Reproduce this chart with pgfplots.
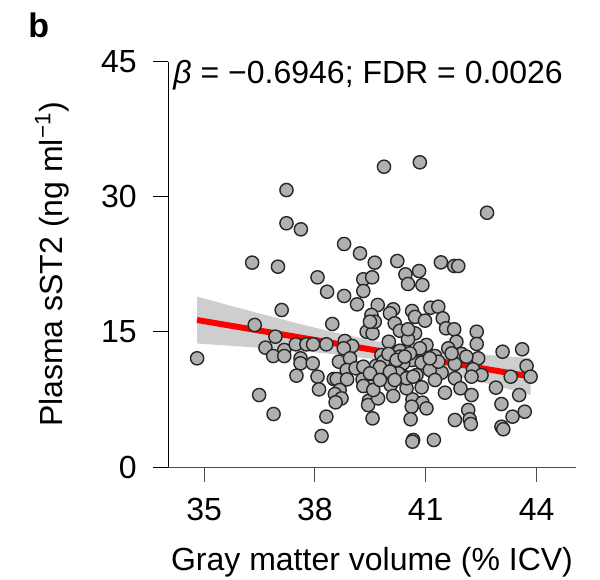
\documentclass[border=0pt]{standalone}
\usepackage{fontspec}
\setmainfont{Liberation Sans}
\usepackage{pgfplots}
\pgfplotsset{compat=1.18}
\definecolor{ptfill}{RGB}{176,176,176}
\definecolor{bandgray}{RGB}{206,206,206}
\begin{document}
\fontsize{16}{19}\selectfont
\begin{tikzpicture}
\begin{axis}[
  at={(0,0)}, anchor=south west,
  scale only axis, width=203.7pt, height=202.65pt,
  xmin=34.03, xmax=45.06, ymin=0, ymax=45,
  axis x line*=bottom, axis y line*=left,
  axis line style={-, line width=0.5pt},
  x axis line style={draw=black!70},
  y axis line style={draw=black},
  tick align=outside, major tick length=7.5pt,
  xtick={35,38,41,44}, ytick={0,15,30,45},
  x tick style={draw=black!70, line width=0.5pt},
  y tick style={draw=black, line width=0.5pt},
  minor tick num=0,
  clip=false,
  /pgf/number format/assume math mode=true,
  ticklabel style={font=\fontsize{16}{19}\selectfont},
  xticklabel style={anchor=north, inner sep=0pt},
  yticklabel style={anchor=east, inner sep=0pt},
  xticklabel shift=8pt,
  yticklabel shift=8.15pt,
  every axis x label/.style={at={([yshift=-51.5pt]axis description cs:0.5,0)}, anchor=base, inner sep=0pt, font=\fontsize{16}{19}\selectfont},
  every axis y label/.style={at={([xshift=-52.65pt]axis description cs:0,0.5)}, rotate=90, anchor=base, inner sep=0pt, font=\fontsize{16}{19}\selectfont},
  xlabel={Gray matter volume (\% ICV)},
  ylabel={Plasma sST2 (ng ml\textsuperscript{−1})},
]
% confidence band
\addplot[fill=bandgray, draw=none] coordinates {
 (34.81,18.93) (35.5,18.14) (36.5,17.05) (37.5,15.98) (38.5,14.97) (39.5,14.09)
 (40.0,13.71) (40.5,13.39) (41.5,12.89) (42.5,12.50) (43.5,12.19) (43.84,12.08)
 (43.84,8.00) (43.5,8.37) (42.5,9.44) (41.5,10.45) (40.5,11.33) (40.0,11.71)
 (39.5,12.03) (38.5,12.53) (37.5,12.92) (36.5,13.23) (35.5,13.52) (34.81,13.71)
};
% regression line
\addplot[red, line width=3pt] coordinates {(34.81,16.32) (43.84,10.04)};
% data points
\addplot[only marks, mark=*, mark size=3.3pt,
  mark options={fill=ptfill, draw=black!85, line width=0.7pt}] table {
x y
39.87 33.34
40.84 33.83
42.66 28.23
37.23 30.75
37.23 27.06
37.62 26.39
38.79 24.76
39.22 23.72
39.62 22.69
36.30 22.69
37.00 22.24
38.07 21.06
39.31 20.84
39.55 21.06
38.33 19.46
39.31 19.54
38.79 18.99
39.14 18.06
39.70 17.99
37.10 17.43
39.53 16.88
40.23 22.87
41.41 22.72
41.77 22.32
41.88 22.32
40.45 21.39
40.82 21.76
40.52 20.32
40.91 20.21
40.12 17.51
40.63 17.32
41.13 17.69
41.34 17.80
40.03 17.06
36.37 15.77
38.47 15.88
39.40 15.02
39.56 14.84
36.93 14.47
36.66 13.25
37.17 12.99
36.87 12.32
37.17 12.32
37.48 13.62
37.77 13.62
37.95 13.62
38.31 13.62
38.81 13.99
39.01 13.43
38.78 13.18
34.81 12.07
37.61 12.07
37.61 11.51
37.94 11.51
38.65 11.69
38.95 12.07
38.86 10.77
39.10 10.96
39.67 11.07
39.62 10.47
37.50 10.14
38.07 10.03
38.51 9.77
38.59 9.77
38.87 9.73
39.29 9.73
39.51 8.92
38.11 8.62
38.67 8.55
38.54 8.10
38.72 7.62
38.56 7.18
39.46 7.36
39.44 6.88
36.49 7.99
36.88 5.88
38.31 5.59
39.56 5.40
38.18 3.44
40.71 16.67
40.98 16.25
41.46 16.51
39.62 16.13
40.16 15.95
40.30 15.13
40.71 14.84
41.55 15.40
41.77 15.29
42.38 15.02
40.52 14.18
40.00 13.91
41.83 13.91
42.38 13.66
41.02 13.55
40.84 13.18
41.61 13.18
40.30 12.91
43.08 12.80
43.61 13.07
39.80 12.43
41.25 12.32
41.97 12.55
42.42 12.07
40.62 11.88
40.39 11.51
40.89 11.58
41.79 11.44
39.65 11.21
40.12 11.07
43.73 11.21
41.43 10.47
42.28 10.85
42.51 10.21
43.30 10.03
43.84 10.03
40.46 9.96
41.79 9.85
41.94 8.74
40.89 8.85
40.05 9.10
41.52 8.25
42.24 7.99
42.90 8.81
43.53 7.99
40.12 7.88
39.71 7.62
40.64 7.51
40.91 7.14
40.62 6.70
41.02 6.51
43.05 6.99
42.15 6.33
40.59 5.30
41.79 5.22
42.19 5.30
42.22 4.77
43.35 5.59
43.68 6.14
43.05 4.47
43.10 4.19
40.66 3.00
40.64 2.81
41.22 3.00
39.49 16.13
40.52 15.29
39.31 11.14
40.12 11.51
42.24 10.03
39.76 10.21
40.75 10.21
40.48 8.74
39.89 10.77
40.26 10.40
41.11 10.77
41.25 9.66
40.30 12.25
40.57 12.62
39.85 11.69
41.34 11.69
41.70 12.62
42.10 12.25
39.99 12.55
40.21 11.88
40.43 12.25
41.11 12.07
39.76 11.07
40.03 10.58
40.48 9.85
40.66 10.03
40.16 9.66
39.49 10.40
39.31 8.99
39.58 8.55
39.76 9.66
};
\node[anchor=base west, inner sep=0pt] at (axis cs:34.16,42.63) {\textit{β} = −0.6946; FDR = 0.0026};
\node[anchor=base west, inner sep=0pt, font=\bfseries\fontsize{17}{19}\selectfont] at ([xshift=-70.15pt,yshift=214.5pt]axis description cs:0,0) {b};
\end{axis}
\path[use as bounding box] (-84.15pt,-56pt) rectangle (215.85pt,233.5pt);
\end{tikzpicture}
\end{document}
